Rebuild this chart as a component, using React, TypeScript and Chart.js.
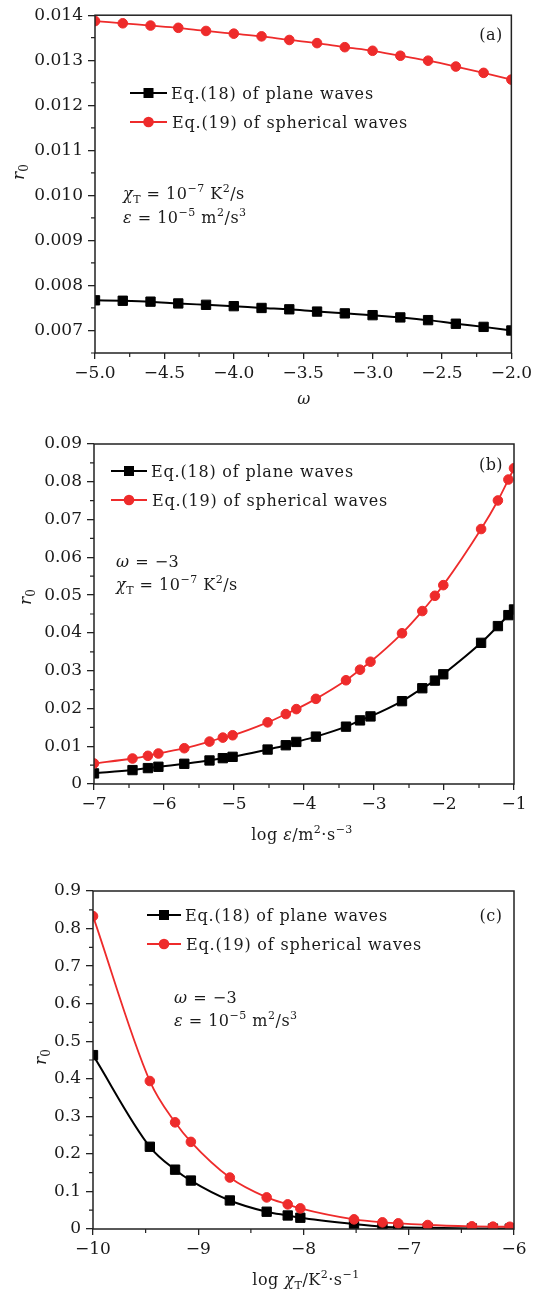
import React, { useEffect, useRef } from 'react';
import { Chart, registerables } from 'chart.js';

Chart.register(...registerables);

const RED = '#ee2b2b';
const BLACK = '#000000';
const INK = '#1a1a1a';
const FONT = '"DejaVu Serif", "Liberation Serif", serif';
const W = 536;

// ---------- Panel (a) ----------
const omega = [-5.0, -4.8, -4.6, -4.4, -4.2, -4.0, -3.8, -3.6, -3.4, -3.2, -3.0, -2.8, -2.6, -2.4, -2.2, -2.0];
const aSpherical = [0.01387, 0.01382, 0.01377, 0.01372, 0.01365, 0.01359, 0.01353, 0.01345, 0.01338, 0.01329, 0.01321, 0.0131, 0.01299, 0.01286, 0.01272, 0.01257];
const aPlane = [0.00767, 0.00766, 0.00764, 0.0076, 0.00757, 0.00754, 0.0075, 0.00747, 0.00742, 0.00738, 0.00734, 0.00729, 0.00723, 0.00715, 0.00708, 0.007];
const aXTicks = [-5, -4.5, -4, -3.5, -3, -2.5, -2];
const aXLabels = ['\u22125.0', '\u22124.5', '\u22124.0', '\u22123.5', '\u22123.0', '\u22122.5', '\u22122.0'];
const aXMinor = [-4.75, -4.25, -3.75, -3.25, -2.75, -2.25];
const aYTicks = [0.007, 0.008, 0.009, 0.01, 0.011, 0.012, 0.013, 0.014];
const aYLabels = ['0.007', '0.008', '0.009', '0.010', '0.011', '0.012', '0.013', '0.014'];
const aYMinor = [0.0065, 0.0075, 0.0085, 0.0095, 0.0105, 0.0115, 0.0125, 0.0135];

// ---------- Panel (b) ----------
const bLogEps = [-7.0, -6.45, -6.23, -6.08, -5.71, -5.35, -5.16, -5.02, -4.52, -4.26, -4.11, -3.83, -3.4, -3.2, -3.05, -2.6, -2.31, -2.13, -2.01, -1.47, -1.23, -1.08, -1.0];
const bSpherical = [0.00544, 0.00675, 0.00746, 0.00807, 0.00947, 0.01123, 0.01228, 0.0129, 0.01632, 0.01851, 0.01982, 0.02254, 0.02746, 0.03026, 0.03237, 0.0399, 0.04578, 0.04982, 0.05264, 0.06749, 0.07505, 0.08059, 0.0836];
const bPlane = [0.00281, 0.00368, 0.00421, 0.00456, 0.00535, 0.00623, 0.00684, 0.00719, 0.00912, 0.01026, 0.01114, 0.01254, 0.01518, 0.01684, 0.01789, 0.02193, 0.02535, 0.02737, 0.02904, 0.03737, 0.0418, 0.0447, 0.0462];
const bXTicks = [-7, -6, -5, -4, -3, -2, -1];
const bXLabels = ['\u22127', '\u22126', '\u22125', '\u22124', '\u22123', '\u22122', '\u22121'];
const bXMinor = [-6.5, -5.5, -4.5, -3.5, -2.5, -1.5];
const bYTicks = [0, 0.01, 0.02, 0.03, 0.04, 0.05, 0.06, 0.07, 0.08, 0.09];
const bYLabels = ['0', '0.01', '0.02', '0.03', '0.04', '0.05', '0.06', '0.07', '0.08', '0.09'];
const bYMinor = [0.005, 0.015, 0.025, 0.035, 0.045, 0.055, 0.065, 0.075, 0.085];

// ---------- Panel (c) ----------
const cLogChi = [-10.0, -9.46, -9.22, -9.07, -8.7, -8.35, -8.15, -8.03, -7.52, -7.25, -7.1, -6.82, -6.4, -6.2, -6.04];
const cSpherical = [0.833, 0.394, 0.284, 0.232, 0.137, 0.0841, 0.0655, 0.0549, 0.0257, 0.0177, 0.015, 0.0106, 0.0071, 0.0062, 0.006];
const cPlane = [0.463, 0.219, 0.158, 0.129, 0.076, 0.046, 0.036, 0.03, 0.0133, 0.0062, 0.0044, 0.003, 0.0015, 0.0012, 0.001];
const cXTicks = [-10, -9, -8, -7, -6];
const cXLabels = ['\u221210', '\u22129', '\u22128', '\u22127', '\u22126'];
const cXMinor = [-9.5, -8.5, -7.5, -6.5];
const cYTicks = [0, 0.1, 0.2, 0.3, 0.4, 0.5, 0.6, 0.7, 0.8, 0.9];
const cYLabels = ['0', '0.1', '0.2', '0.3', '0.4', '0.5', '0.6', '0.7', '0.8', '0.9'];
const cYMinor = [0.05, 0.15, 0.25, 0.35, 0.45, 0.55, 0.65, 0.75, 0.85];

const LEGEND_PLANE = 'Eq.(18) of plane waves';
const LEGEND_SPHER = 'Eq.(19) of spherical waves';

type Seg = { t: string; it?: boolean; sup?: boolean; sub?: boolean };

const NOTE_CHI: Seg[] = [{ t: '\u03c7', it: true }, { t: 'T', sub: true }, { t: ' = 10' }, { t: '\u22127', sup: true }, { t: ' K' }, { t: '2', sup: true }, { t: '/s' }];
const NOTE_EPS: Seg[] = [{ t: '\u03b5', it: true }, { t: ' = 10' }, { t: '\u22125', sup: true }, { t: ' m' }, { t: '2', sup: true }, { t: '/s' }, { t: '3', sup: true }];
const NOTE_OMEGA: Seg[] = [{ t: '\u03c9', it: true }, { t: ' = \u22123' }];

function segFont(s: Seg, size: number) {
  const sz = s.sup || s.sub ? Math.round(size * 0.68) : size;
  return `${s.it ? 'italic ' : ''}${sz}px ${FONT}`;
}

function drawRich(ctx: CanvasRenderingContext2D, segs: Seg[], x: number, y: number, size: number, align: 'left' | 'center' = 'left', spacing = 0) {
  ctx.save();
  ctx.fillStyle = INK;
  ctx.textBaseline = 'alphabetic';
  ctx.textAlign = 'left';
  (ctx as any).letterSpacing = spacing + 'px';
  let w = 0;
  for (const s of segs) {
    ctx.font = segFont(s, size);
    w += ctx.measureText(s.t).width;
  }
  let cx = align === 'center' ? x - w / 2 : x;
  for (const s of segs) {
    ctx.font = segFont(s, size);
    const dy = s.sup ? -size * 0.42 : s.sub ? size * 0.25 : 0;
    ctx.fillText(s.t, cx, y + dy);
    cx += ctx.measureText(s.t).width;
  }
  ctx.restore();
}

interface Panel {
  top: number;
  height: number;
  area: { left: number; right: number; top: number; bottom: number };
  xMin: number; xMax: number; yMin: number; yMax: number;
  xTicks: number[]; xLabels: string[]; xMinor: number[];
  yTicks: number[]; yLabels: string[]; yMinor: number[];
  xs: number[]; plane: number[]; spherical: number[];
  legend: { x0: number; x1: number; y1: number; y2: number; tx: number };
  tag: { text: string; x: number; y: number };
  notes: { x: number; ys: number[]; lines: Seg[][] };
  xTitle: { segs: Seg[]; x: number; y: number };
  yTitle: { x: number; y: number };
}

const panels: Panel[] = [
  {
    top: 0, height: 425,
    area: { left: 95, right: 514, top: 11, bottom: 353 },
    xMin: -5, xMax: -2, yMin: 0.0065, yMax: 0.014,
    xTicks: aXTicks, xLabels: aXLabels, xMinor: aXMinor,
    yTicks: aYTicks, yLabels: aYLabels, yMinor: aYMinor,
    xs: omega, plane: aPlane, spherical: aSpherical,
    legend: { x0: 130, x1: 167, y1: 93, y2: 122, tx: 171 },
    tag: { text: '(a)', x: 491, y: 40 },
    notes: { x: 123, ys: [199, 223], lines: [NOTE_CHI, NOTE_EPS] },
    xTitle: { segs: [{ t: '\u03c9', it: true }], x: 304, y: 404 },
    yTitle: { x: 24, y: 172 },
  },
  {
    top: 425, height: 430,
    area: { left: 94, right: 514, top: 19, bottom: 359 },
    xMin: -7, xMax: -1, yMin: 0, yMax: 0.09,
    xTicks: bXTicks, xLabels: bXLabels, xMinor: bXMinor,
    yTicks: bYTicks, yLabels: bYLabels, yMinor: bYMinor,
    xs: bLogEps, plane: bPlane, spherical: bSpherical,
    legend: { x0: 111, x1: 147, y1: 46, y2: 75, tx: 151 },
    tag: { text: '(b)', x: 491, y: 45 },
    notes: { x: 116, ys: [142, 165], lines: [NOTE_OMEGA, NOTE_CHI] },
    xTitle: { segs: [{ t: 'log ' }, { t: '\u03b5', it: true }, { t: '/m' }, { t: '2', sup: true }, { t: '\u00b7s' }, { t: '\u22123', sup: true }], x: 302, y: 415 },
    yTitle: { x: 31, y: 172 },
  },
  {
    top: 855, height: 437,
    area: { left: 93, right: 514, top: 36, bottom: 374 },
    xMin: -10, xMax: -6, yMin: 0, yMax: 0.9,
    xTicks: cXTicks, xLabels: cXLabels, xMinor: cXMinor,
    yTicks: cYTicks, yLabels: cYLabels, yMinor: cYMinor,
    xs: cLogChi, plane: cPlane, spherical: cSpherical,
    legend: { x0: 147, x1: 181, y1: 60, y2: 89, tx: 185 },
    tag: { text: '(c)', x: 491, y: 66 },
    notes: { x: 174, ys: [148, 171], lines: [NOTE_OMEGA, NOTE_EPS] },
    xTitle: { segs: [{ t: 'log ' }, { t: '\u03c7', it: true }, { t: 'T', sub: true }, { t: '/K' }, { t: '2', sup: true }, { t: '\u00b7s' }, { t: '\u22121', sup: true }], x: 306, y: 430 },
    yTitle: { x: 46, y: 202 },
  },
];

function makeChart(canvas: HTMLCanvasElement, p: Panel) {
  const H = p.height;
  const tickFont = { family: FONT, size: 17 };
  const decor = {
    id: 'decor',
    afterDraw(chart: any) {
      const ctx: CanvasRenderingContext2D = chart.ctx;
      const { left, right, top, bottom } = chart.chartArea;
      const xs = chart.scales.x;
      const ys = chart.scales.y;
      ctx.save();
      // frame
      ctx.strokeStyle = '#222';
      ctx.lineWidth = 1.5;
      ctx.strokeRect(left, top, right - left, bottom - top);
      // minor ticks
      ctx.lineWidth = 1.2;
      ctx.beginPath();
      for (const v of p.xMinor) {
        const px = xs.getPixelForValue(v);
        ctx.moveTo(px, bottom);
        ctx.lineTo(px, bottom + 4);
      }
      for (const v of p.yMinor) {
        const py = ys.getPixelForValue(v);
        ctx.moveTo(left - 4, py);
        ctx.lineTo(left, py);
      }
      ctx.stroke();
      // legend
      const L = p.legend;
      const mid = (L.x0 + L.x1) / 2;
      ctx.lineWidth = 2;
      ctx.strokeStyle = BLACK;
      ctx.beginPath(); ctx.moveTo(L.x0, L.y1); ctx.lineTo(L.x1, L.y1); ctx.stroke();
      ctx.fillStyle = BLACK;
      ctx.fillRect(mid - 5, L.y1 - 5, 10, 10);
      ctx.strokeStyle = RED;
      ctx.lineWidth = 1.8;
      ctx.beginPath(); ctx.moveTo(L.x0, L.y2); ctx.lineTo(L.x1, L.y2); ctx.stroke();
      ctx.fillStyle = RED;
      ctx.beginPath(); ctx.arc(mid, L.y2, 5.3, 0, Math.PI * 2); ctx.fill();
      drawRich(ctx, [{ t: LEGEND_PLANE }], L.tx, L.y1 + 6, 16, 'left', 0.8);
      drawRich(ctx, [{ t: LEGEND_SPHER }], L.tx + 1, L.y2 + 6, 16, 'left', 0.8);
      // tag
      drawRich(ctx, [{ t: p.tag.text }], p.tag.x, p.tag.y, 16, 'center', 0.5);
      // notes
      p.notes.lines.forEach((ln, i) => drawRich(ctx, ln, p.notes.x, p.notes.ys[i], 16, 'left', 0.5));
      // x title
      drawRich(ctx, p.xTitle.segs, p.xTitle.x, p.xTitle.y, 16, 'center', 0.5);
      // y title (rotated)
      ctx.translate(p.yTitle.x, p.yTitle.y);
      ctx.rotate(-Math.PI / 2);
      drawRich(ctx, [{ t: 'r', it: true }, { t: '0', sub: true }], 0, 0, 17, 'center');
      ctx.restore();
    },
  };

  return new Chart(canvas, {
    type: 'line',
    data: {
      datasets: [
        {
          label: LEGEND_SPHER,
          data: p.xs.map((x, i) => ({ x, y: p.spherical[i] })),
          borderColor: RED,
          backgroundColor: RED,
          pointBackgroundColor: RED,
          pointBorderColor: RED,
          borderWidth: 1.8,
          pointStyle: 'circle',
          pointRadius: 4.8,
          pointBorderWidth: 1,
          cubicInterpolationMode: 'monotone',
          clip: 0,
        } as any,
        {
          label: LEGEND_PLANE,
          data: p.xs.map((x, i) => ({ x, y: p.plane[i] })),
          borderColor: BLACK,
          backgroundColor: BLACK,
          pointBackgroundColor: BLACK,
          pointBorderColor: BLACK,
          borderWidth: 2,
          pointStyle: 'rect',
          pointRadius: 6.6,
          pointBorderWidth: 1,
          cubicInterpolationMode: 'monotone',
          clip: 0,
        } as any,
      ],
    },
    options: {
      animation: false,
      responsive: false,
      devicePixelRatio: 1,
      events: [],
      clip: 0,
      layout: { padding: { top: p.area.top, right: W - p.area.right, left: 0, bottom: 0 } },
      plugins: { legend: { display: false }, tooltip: { enabled: false } },
      scales: {
        x: {
          type: 'linear',
          min: p.xMin,
          max: p.xMax,
          afterBuildTicks: (s: any) => { s.ticks = p.xTicks.map((v) => ({ value: v })); },
          afterFit: (s: any) => { s.height = H - p.area.bottom; },
          ticks: {
            autoSkip: false,
            maxRotation: 0,
            padding: 4,
            color: INK,
            font: tickFont,
            callback: (_v: any, i: number) => p.xLabels[i],
          },
          grid: { display: true, drawOnChartArea: false, drawTicks: true, tickLength: 6, color: '#222', lineWidth: 1.3 },
          border: { display: false },
        },
        y: {
          type: 'linear',
          min: p.yMin,
          max: p.yMax,
          afterBuildTicks: (s: any) => { s.ticks = p.yTicks.map((v) => ({ value: v })); },
          afterFit: (s: any) => { s.width = p.area.left; },
          ticks: {
            autoSkip: false,
            padding: 5,
            color: INK,
            font: tickFont,
            callback: (_v: any, i: number) => p.yLabels[i],
          },
          grid: { display: true, drawOnChartArea: false, drawTicks: true, tickLength: 7, color: '#222', lineWidth: 1.3 },
          border: { display: false },
        },
      },
    } as any,
    plugins: [decor],
  });
}

function PanelCanvas({ p }: { p: Panel }) {
  const ref = useRef<HTMLCanvasElement | null>(null);
  useEffect(() => {
    if (!ref.current) return;
    const chart = makeChart(ref.current, p);
    return () => chart.destroy();
  }, [p]);
  return (
    <canvas
      ref={ref}
      width={W}
      height={p.height}
      style={{ position: 'absolute', left: 0, top: p.top, width: W, height: p.height, display: 'block' }}
    />
  );
}

export default function App() {
  return (
    <div style={{ position: 'absolute', left: 0, top: 0, width: W, height: 1292, background: '#ffffff', overflow: 'hidden' }}>
      {panels.map((p, i) => (
        <PanelCanvas key={i} p={p} />
      ))}
    </div>
  );
}
